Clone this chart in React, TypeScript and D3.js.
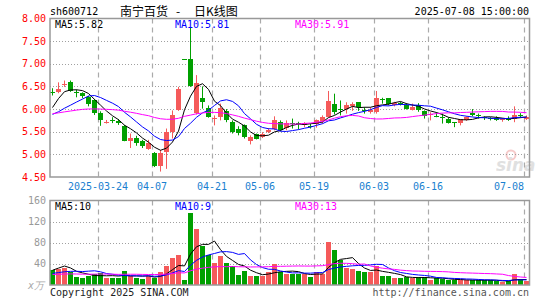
import React from "react";
import * as d3 from "d3";

const dates = [
  "2025-03-12","2025-03-13","2025-03-14","2025-03-17","2025-03-18","2025-03-19","2025-03-20","2025-03-21","2025-03-24","2025-03-25",
  "2025-03-26","2025-03-27","2025-03-28","2025-03-31","2025-04-01","2025-04-02","2025-04-03","2025-04-07","2025-04-08","2025-04-09",
  "2025-04-10","2025-04-11","2025-04-14","2025-04-15","2025-04-16","2025-04-17","2025-04-18","2025-04-21","2025-04-22","2025-04-23",
  "2025-04-24","2025-04-25","2025-04-28","2025-04-29","2025-04-30","2025-05-06","2025-05-07","2025-05-08","2025-05-09","2025-05-12",
  "2025-05-13","2025-05-14","2025-05-15","2025-05-16","2025-05-19","2025-05-20","2025-05-21","2025-05-22","2025-05-23","2025-05-26",
  "2025-05-27","2025-05-28","2025-05-29","2025-05-30","2025-06-03","2025-06-04","2025-06-05","2025-06-06","2025-06-09","2025-06-10",
  "2025-06-11","2025-06-12","2025-06-13","2025-06-16","2025-06-17","2025-06-18","2025-06-19","2025-06-20","2025-06-23","2025-06-24",
  "2025-06-25","2025-06-26","2025-06-27","2025-06-30","2025-07-01","2025-07-02","2025-07-03","2025-07-04","2025-07-07","2025-07-08",
];

const open = [
  6.38,6.38,6.55,6.60,6.38,6.35,6.26,6.21,5.91,5.71,
  5.76,5.74,5.62,5.30,5.37,5.29,5.12,5.03,4.74,5.05,
  5.49,5.97,7.10,7.10,5.92,6.25,6.03,5.78,5.82,5.96,
  5.71,5.56,5.64,5.29,5.44,5.38,5.50,5.57,5.71,5.59,
  5.70,5.70,5.64,5.63,5.66,5.74,5.82,6.12,6.00,6.00,
  6.06,6.15,5.98,5.93,5.93,6.22,6.24,6.08,6.13,6.08,
  5.99,6.08,5.96,5.89,5.85,5.83,5.79,5.71,5.69,5.75,
  5.91,5.87,5.82,5.80,5.81,5.78,5.77,5.79,5.87,5.79,
];
const high = [
  6.46,6.59,6.63,6.63,6.43,6.37,6.29,6.22,5.95,5.76,
  5.82,5.78,5.65,5.46,5.41,5.32,5.32,5.05,5.10,5.57,
  5.97,6.49,7.10,7.81,6.75,6.50,6.08,5.86,6.12,6.00,
  5.75,5.62,5.66,5.42,5.46,5.49,5.58,5.84,5.75,5.75,
  5.79,5.72,5.71,5.68,5.77,5.86,6.40,6.34,6.19,6.15,
  6.15,6.15,6.04,6.04,6.40,6.25,6.24,6.16,6.16,6.13,
  6.12,6.13,5.97,5.93,5.93,5.90,5.82,5.71,5.76,5.84,
  6.00,5.90,5.84,5.82,5.84,5.80,5.84,6.06,5.91,5.86,
];
const low = [
  6.30,6.35,6.49,6.38,6.26,6.24,6.06,5.87,5.63,5.68,
  5.69,5.65,5.29,5.14,5.19,5.14,5.10,4.72,4.62,4.68,
  5.35,5.96,7.10,6.49,5.88,6.01,5.81,5.64,5.75,5.71,
  5.46,5.42,5.35,5.22,5.33,5.36,5.47,5.53,5.51,5.53,
  5.57,5.55,5.60,5.57,5.59,5.68,5.82,5.88,5.86,5.90,
  5.96,5.96,5.90,5.90,5.90,6.12,6.08,6.06,6.08,5.99,
  5.97,5.94,5.79,5.75,5.82,5.68,5.68,5.60,5.64,5.74,
  5.84,5.79,5.76,5.75,5.74,5.72,5.74,5.71,5.81,5.76,
];
const close = [
  6.37,6.44,6.56,6.39,6.37,6.28,6.12,5.91,5.76,5.72,
  5.75,5.69,5.30,5.37,5.26,5.18,5.24,4.74,5.03,5.49,
  5.86,6.45,7.10,6.52,6.57,6.16,5.82,5.80,6.03,5.75,
  5.49,5.48,5.38,5.38,5.35,5.46,5.54,5.75,5.53,5.69,
  5.69,5.69,5.69,5.62,5.75,5.82,6.18,5.93,5.99,6.08,
  6.12,6.04,5.97,5.99,6.25,6.21,6.12,6.14,6.12,6.01,
  6.05,5.99,5.84,5.90,5.84,5.82,5.69,5.71,5.77,5.82,
  5.87,5.86,5.81,5.79,5.75,5.79,5.77,5.88,5.86,5.83,
];
const volume = [
  27.8,30.4,32.3,24.0,15.2,12.6,17.7,20.2,22.8,13.9,
  13.9,13.9,26.6,17.7,13.9,11.4,17.7,13.9,25.3,36.7,
  51.9,56.9,10.1,136.6,106.3,74.6,56.9,41.7,55.7,41.7,
  36.7,19.0,26.6,16.4,17.7,17.7,25.3,39.2,25.3,21.5,
  20.2,20.2,21.5,15.8,25.3,21.5,82.2,67.0,46.8,32.9,
  30.4,26.6,24.0,24.0,36.7,17.7,17.7,13.9,12.6,15.2,
  12.6,15.2,15.2,10.1,12.6,11.4,10.1,8.9,8.9,8.9,
  10.1,8.9,8.9,8.9,7.6,5.1,7.6,20.2,11.4,7.6,
];
// the 29 sessions before the first visible one (needed for the moving averages)
const priorClose = [
  5.95,5.90,5.82,5.78,5.80,5.85,5.88,5.85,
  5.90,5.95,6.02,6.05,6.00,5.98,6.03,5.97,5.92,5.88,5.85,
  5.80,5.85,5.78,5.72,5.68,5.62,
  5.45,5.80,6.20,6.35,
];
const priorVolume = [
  22,18,16,20,24,19,17,15,18,21,23,20,17,16,19,22,18,17,20,18,
  15,17,16,14,18,
  10,13,42,47,
];

const priceTicks = [8.0, 7.5, 7.0, 6.5, 6.0, 5.5, 5.0, 4.5];
const volumeTicks = [160, 120, 80, 40];
const dateTicks = ["2025-03-24","2025-04-07","2025-04-21","2025-05-06","2025-05-19","2025-06-03","2025-06-16","2025-07-08"];
const dateTickLabels = ["2025-03-24","04-07","04-21","05-06","05-19","06-03","06-16","07-08"];
const maPeriods = [5, 10, 30];
const maColors = ["#000000", "#0000ff", "#ff00ff"];
const priceLegend = ["MA5:5.82", "MA10:5.81", "MA30:5.91"];
const volumeLegend = ["MA5:10", "MA10:9", "MA30:13"];
const legendX = [55, 175, 295];
const titleParts = ["南宁百货", "-", "日K线图"];
const titleX = [120, 176, 194];

const FONT = "'DejaVu Sans Mono', 'Liberation Mono', monospace";
const RED = "#f55a5a";
const GREEN = "#00a000";

export default function App() {
  const X0 = 50, X1 = 530;
  const PY0 = 18.5, PY1 = 177;
  const VY0 = 200.5, VY1 = 285;

  const x = d3.scaleBand<string>().domain(dates).range([X0, X1]).padding(0);
  const yP = d3.scaleLinear().domain([4.5, 8]).range([PY1, PY0]);
  const yV = d3.scaleLinear().domain([0, 160]).range([VY1, VY0]);
  const n0 = priorClose.length;
  const allClose = [...priorClose, ...close];
  const allVol = [...priorVolume, ...volume];

  const movingAvg = (arr: number[], n: number) =>
    dates.map((_, i) => d3.mean(arr.slice(i + n0 - n + 1, i + n0 + 1)) as number);

  const cx = (i: number) => (x(dates[i]) as number) + 2.5;
  const priceLine = d3.line<number>().x((_, i) => cx(i)).y((v) => yP(v));
  const volLine = d3.line<number>().x((_, i) => cx(i)).y((v) => yV(v));

  const isUp = (i: number) => close[i] > open[i];

  return (
    <svg width={545} height={300} style={{ position: "absolute", left: 0, top: 0, background: "#fff" }}
      fontFamily={FONT} fontSize={10}>
      <rect x={0} y={0} width={545} height={300} fill="#fff" />
      {/* header */}
      <text x={50} y={15} fill="#000">sh600712</text>
      {titleParts.map((t, k) => (
        <text key={"tt" + k} x={titleX[k]} y={16} fill="#000" fontSize={12}
          fontFamily="'Noto Sans CJK SC', sans-serif">{t}</text>
      ))}
      <text x={529} y={15} fill="#000" textAnchor="end">2025-07-08 15:00:00</text>

      {/* watermark */}
      <g opacity={0.55}>
        <circle cx={511} cy={155} r={4.5} fill="none" stroke="#f0a0a0" strokeWidth={2} />
        <text x={496} y={171} fontSize={17} fontStyle="italic" fontWeight="bold" fill="#c8c8c8" fontFamily="'DejaVu Sans', sans-serif">sina</text>
      </g>

      {/* grid */}
      {priceTicks.slice(1, -1).map((t) => (
        <line key={"pg" + t} x1={X0} x2={X1} y1={Math.round(yP(t)) + 0.5} y2={Math.round(yP(t)) + 0.5}
          stroke="#a0a0a0" strokeDasharray="1,2" />
      ))}
      {volumeTicks.slice(1).map((t) => (
        <line key={"vg" + t} x1={X0} x2={X1} y1={Math.round(yV(t)) + 0.5} y2={Math.round(yV(t)) + 0.5}
          stroke="#a0a0a0" strokeDasharray="1,2" />
      ))}
      {dateTicks.map((d) => {
        const gx = (x(d) as number) + 0.5;
        return (
          <g key={"dg" + d}>
            <line x1={gx} x2={gx} y1={PY0} y2={PY1} stroke="#aaaaaa" strokeWidth={1.2} strokeDasharray="5,4" />
            <line x1={gx} x2={gx} y1={VY0} y2={VY1} stroke="#aaaaaa" strokeWidth={1.2} strokeDasharray="5,4" />
          </g>
        );
      })}

      {/* candles */}
      {dates.map((d, i) => {
        const x0 = x(d) as number;
        const col = isUp(i) ? RED : GREEN;
        const top = Math.round(yP(Math.max(open[i], close[i])));
        const bot = Math.round(yP(Math.min(open[i], close[i])));
        return (
          <g key={"c" + d}>
            <line x1={x0 + 2.5} x2={x0 + 2.5} y1={yP(high[i])} y2={yP(low[i])} stroke={col} strokeWidth={1} />
            <rect x={x0} y={top} width={5} height={Math.max(1, bot - top)} fill={col} />
          </g>
        );
      })}
      {maPeriods.map((p, k) => (
        <path key={"pm" + p} d={priceLine(movingAvg(allClose, p)) as string} fill="none" stroke={maColors[k]} strokeWidth={1} />
      ))}

      {/* volume bars */}
      {dates.map((d, i) => {
        const x0 = x(d) as number;
        const top = Math.round(yV(volume[i]));
        return <rect key={"v" + d} x={x0} y={top} width={5} height={VY1 - top} fill={isUp(i) ? RED : GREEN} />;
      })}
      {maPeriods.map((p, k) => (
        <path key={"vm" + p} d={volLine(movingAvg(allVol, p)) as string} fill="none" stroke={maColors[k]} strokeWidth={1} />
      ))}

      {/* frames */}
      <rect x={X0} y={PY0} width={X1 - X0 - 0.5} height={PY1 - PY0} fill="none" stroke="#999" strokeWidth={1.5} />
      <rect x={X0} y={VY0} width={X1 - X0 - 0.5} height={VY1 - VY0} fill="none" stroke="#999" strokeWidth={1.5} />

      {/* legends */}
      {priceLegend.map((t, k) => (
        <text key={"pl" + k} x={legendX[k]} y={28} fill={maColors[k]}>{t}</text>
      ))}
      {volumeLegend.map((t, k) => (
        <text key={"vl" + k} x={legendX[k]} y={210} fill={maColors[k]}>{t}</text>
      ))}

      {/* axis labels */}
      {priceTicks.map((t) => (
        <text key={"pt" + t} x={46} y={yP(t)} dy="0.36em" textAnchor="end" fill="#ff0000">{t.toFixed(2)}</text>
      ))}
      {volumeTicks.map((t) => (
        <text key={"vt" + t} x={46} y={yV(t)} dy="0.36em" textAnchor="end" fill="#999999">{t}</text>
      ))}
      <text x={28} y={289} fill="#aaaaaa" fontStyle="italic">x万</text>
      {dateTicks.map((d, k) => {
        const gx = x(d) as number;
        const lbl = dateTickLabels[k];
        const half = lbl.length * 3;
        const anchor = gx + half > X1 ? "end" : "middle";
        return (
          <text key={"dl" + d} x={gx} y={190} textAnchor={anchor} fill="#1a7fd0">{lbl}</text>
        );
      })}

      <text x={50} y={296} fill="#222">Copyright 2025 SINA.COM</text>
      <text x={529} y={296} textAnchor="end" fill="#555">http://finance.sina.com.cn</text>
    </svg>
  );
}
